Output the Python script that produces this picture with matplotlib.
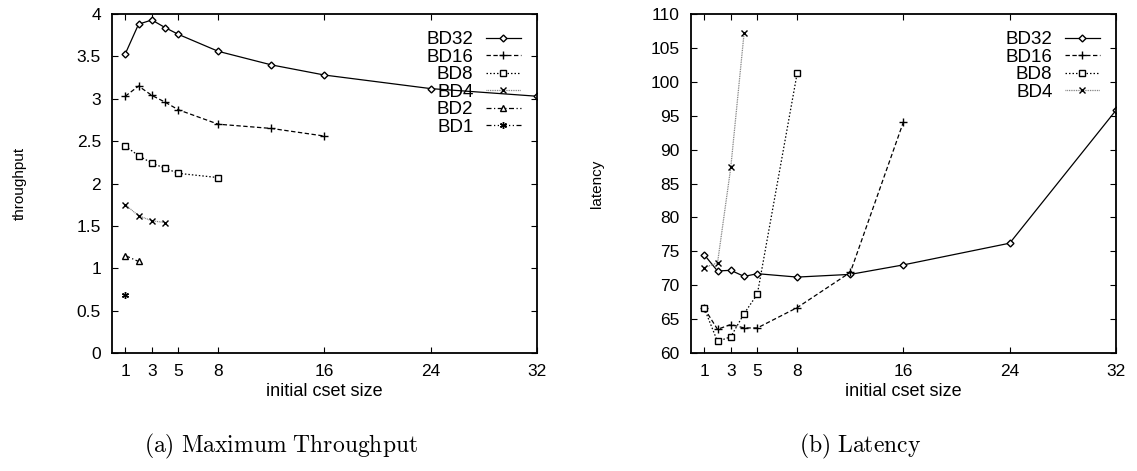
import matplotlib
matplotlib.use('Agg')
import matplotlib.pyplot as plt

plt.rcParams['font.family'] = ['Liberation Sans', 'DejaVu Sans']
plt.rcParams['mathtext.fontset'] = 'cm'

# data
sizes = [1, 2, 3, 4, 5, 8, 12, 16, 24, 32]

tput_bd32 = [3.53, 3.88, 3.93, 3.84, 3.76, 3.56, 3.40, 3.28, 3.12, 3.03]
tput_bd16 = [3.03, 3.15, 3.04, 2.96, 2.87, 2.70, 2.65, 2.56]
tput_bd8 = [2.44, 2.33, 2.24, 2.18, 2.12, 2.07]
tput_bd4 = [1.75, 1.62, 1.56, 1.54]
tput_bd2 = [1.15, 1.08]
tput_bd1 = [0.68]

lat_bd32 = [74.5, 72.1, 72.2, 71.3, 71.7, 71.2, 71.6, 73.0, 76.2, 95.8]
lat_bd16 = [66.6, 63.5, 64.2, 63.7, 63.7, 66.7, 71.9, 94.1]
lat_bd8 = [66.6, 61.7, 62.4, 65.8, 68.7, 101.3]
lat_bd4 = [72.6, 73.3, 87.4, 107.2]

xticks = [1, 3, 5, 8, 16, 24, 32]
tput_ticks = [0, 0.5, 1, 1.5, 2, 2.5, 3, 3.5, 4]
tput_ticklabels = ['0', '0.5', '1', '1.5', '2', '2.5', '3', '3.5', '4']
lat_ticks = [60, 65, 70, 75, 80, 85, 90, 95, 100, 105, 110]

styles = {
    'BD32': dict(ls='-', marker='D', ms=3.5, mfc='white', color='black'),
    'BD16': dict(ls=(0, (3.5, 2)), marker='+', ms=6, color='black'),
    'BD8': dict(ls=(0, (1.2, 1.6)), marker='s', ms=4.5, mfc='white', color='black'),
    'BD4': dict(ls=(0, (0.7, 0.7)), marker='x', ms=4.5, color='0.45', mec='black'),
    'BD2': dict(ls=(0, (4, 2, 1, 2)), marker='^', ms=4.5, mfc='white', color='black'),
    'BD1': dict(ls=(0, (4, 2, 1, 2, 1, 2)), marker=(6, 2, 0), ms=5, color='black'),
}


def style_axes(ax, ylabel, ylab_x):
    ax.set_xlim(0, 32)
    ax.set_xticks(xticks)
    ax.tick_params(direction='in', top=True, right=True, length=4, width=0.8,
                   labelsize=12.5, pad=8)
    for sp in ax.spines.values():
        sp.set_linewidth(1.3)
    ax.set_xlabel('initial cset size', fontsize=13, va='center')
    ax.xaxis.set_label_coords(0.5, -0.114)
    ax.set_ylabel(ylabel, fontsize=11, va='center')
    ax.yaxis.set_label_coords(ylab_x, 0.5)


fig = plt.figure(figsize=(11.37, 4.71), dpi=100)
ax1 = fig.add_axes([0.0985, 0.2505, 0.3738, 0.7197])
ax2 = fig.add_axes([0.6077, 0.2505, 0.3738, 0.7197])

series1 = [('BD32', tput_bd32), ('BD16', tput_bd16), ('BD8', tput_bd8),
           ('BD4', tput_bd4), ('BD2', tput_bd2), ('BD1', tput_bd1)]
for name, vals in series1:
    ax1.plot(sizes[:len(vals)], vals, lw=0.9, label=name, **styles[name])
ax1.set_ylim(0, 4)
ax1.set_yticks(tput_ticks)
ax1.set_yticklabels(tput_ticklabels)
style_axes(ax1, 'throughput', -0.2165)

series2 = [('BD32', lat_bd32), ('BD16', lat_bd16), ('BD8', lat_bd8),
           ('BD4', lat_bd4)]
for name, vals in series2:
    ax2.plot(sizes[:len(vals)], vals, lw=0.9, label=name, **styles[name])
ax2.set_ylim(60, 110)
ax2.set_yticks(lat_ticks)
style_axes(ax2, 'latency', -0.221)

for ax in (ax1, ax2):
    ax.legend(loc='upper right', bbox_to_anchor=(0.963, 0.95),
              frameon=False, markerfirst=False, fontsize=13.5,
              handlelength=1.9, handletextpad=0.65, labelspacing=0.02,
              borderpad=0, borderaxespad=0)

fig.text(281.5 / 1137, 1 - 446.7 / 471, r'$\mathrm{(a)\ Maximum\ Throughput}$',
         fontsize=17, ha='center', va='center')
fig.text(860 / 1137, 1 - 446.7 / 471, r'$\mathrm{(b)\ Latency}$',
         fontsize=17, ha='center', va='center')

fig.savefig('out.png', dpi=100)
